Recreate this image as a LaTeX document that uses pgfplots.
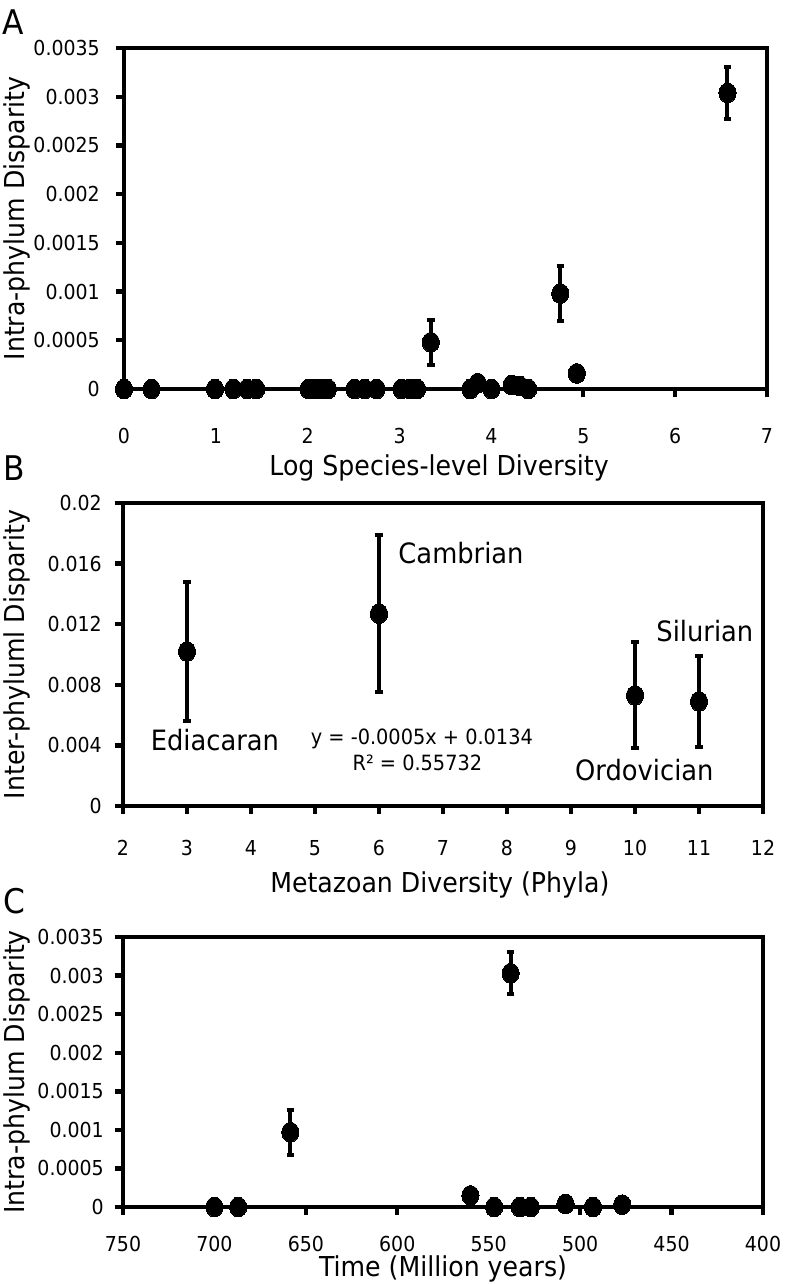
\documentclass[border=0pt]{standalone}
\usepackage{fontspec}
\setmainfont[FakeStretch=0.92]{DejaVu Sans}
\usepackage{pgfplots}
\pgfplotsset{compat=1.18}
\usepackage{pgfplotstable}

\pgfplotstableread{
x y
0 0
0.30 0
0.99 0
1.19 0
1.34 0
1.44 0
2.01 0
2.08 0
2.15 0
2.22 0
2.51 0
2.62 0
2.75 0
3.02 0
3.11 0
3.19 0
3.77 0
3.85 0.00006
4.00 0
4.22 0.00004
4.31 0.00003
4.40 0
4.93 0.00016
}\dataAplain
\pgfplotstableread{
x y e
3.34 0.00048 0.00023
4.75 0.00098 0.00028
6.57 0.00304 0.00027
}\dataAerr
\pgfplotstableread{
x y e
3 0.0102 0.0046
6 0.0127 0.0052
10 0.0073 0.0035
11 0.0069 0.0030
}\dataB
\pgfplotstableread{
x y
700 0
687 0
560 0.00015
547 0
533 0
527 0
508 0.00004
493 0
477 0.00003
}\dataCplain
\pgfplotstableread{
x y e
658.5 0.00097 0.00029
538 0.00303 0.00027
}\dataCerr

\newcommand{\ticksize}{\fontsize{10.3}{12}\selectfont}
\newcommand{\labsize}{\fontsize{13.7}{16}\selectfont}

\pgfplotsset{
  panel/.style={
    scale only axis, clip=false,
    line width=2.2pt,
    axis line style={line width=2.2pt},
    tick style={line width=2.2pt, black},
    tick align=outside, major tick length=4pt,
    xtick pos=bottom, ytick pos=left,
    scaled x ticks=false, scaled y ticks=false,
    /pgf/number format/assume math mode=true,
    ticklabel style={font=\ticksize},
    yticklabel style={anchor=east, inner sep=0pt},
    xticklabel style={anchor=center, inner sep=0pt},
    label style={font=\labsize, inner sep=0pt},
    ylabel style={at={(axis description cs:-0.166,0.5)}, anchor=center},
  },
  dots/.style={only marks, mark=*, black, mark size=4.3pt,
    mark options={yscale=1.15, fill=black, draw=black, line width=0pt}},
  ebars/.style={dots, error bars/.cd, y dir=both, y explicit,
    error bar style={line width=2pt, black},
    error mark=|,
    error mark options={mark size=1.9pt, black, line width=2pt}},
}

\begin{document}
\begin{tikzpicture}
\useasboundingbox (0,0) rectangle (396.5pt,-642pt);

% ---------------- Panel A
\begin{axis}[panel,
  at={(62pt,-194.5pt)}, anchor=south west,
  width=321.5pt, height=170.5pt,
  xmin=0, xmax=7, ymin=0, ymax=0.0035,
  xtick={0,1,...,7},
  ytick={0,0.0005,0.001,0.0015,0.002,0.0025,0.003,0.0035},
  yticklabels={0,0.0005,0.001,0.0015,0.002,0.0025,0.003,0.0035},
  xticklabels={0,1,2,3,4,5,6,7},
  yticklabel style={xshift=-7pt},
  xticklabel style={yshift=-19.5pt},
  xlabel={Log Species-level Diversity},
  xlabel style={at={(axis description cs:0.49,-0.232)}, anchor=center},
  ylabel={Intra-phylum Disparity},
]
\addplot[dots] table[x=x,y=y] {\dataAplain};
\addplot[ebars] table[x=x,y=y,y error=e] {\dataAerr};
\end{axis}

% ---------------- Panel B
\begin{axis}[panel,
  at={(61.5pt,-403pt)}, anchor=south west,
  width=320pt, height=151.5pt,
  xmin=2, xmax=12, ymin=0, ymax=0.02,
  xtick={2,3,...,12},
  xticklabels={2,3,4,5,6,7,8,9,10,11,12},
  ytick={0,0.004,0.008,0.012,0.016,0.02},
  yticklabels={0,0.004,0.008,0.012,0.016,0.02},
  yticklabel style={xshift=-5.5pt},
  xticklabel style={yshift=-17pt},
  xlabel={Metazoan Diversity (Phyla)},
  xlabel style={at={(axis description cs:0.495,-0.261)}, anchor=center},
  ylabel={Inter-phyluml Disparity},
]
\addplot[ebars] table[x=x,y=y,y error=e] {\dataB};
\node[anchor=west, inner sep=0pt, font=\fontsize{14}{16}\selectfont] at (axis cs:6.27,0.0167) {Cambrian};
\node[anchor=west, inner sep=0pt, font=\fontsize{14}{16}\selectfont] at (axis cs:10.3,0.01157) {Silurian};
\node[anchor=west, inner sep=0pt, font=\fontsize{14}{16}\selectfont] at (axis cs:9.03,0.00238) {Ordovician};
\node[anchor=west, inner sep=0pt, font=\fontsize{14}{16}\selectfont] at (axis cs:2.4,0.00436) {Ediacaran};
\node[anchor=center, inner sep=0pt, font=\fontsize{10.5}{12}\selectfont] at (axis cs:6.67,0.0044) {y = -0.0005x + 0.0134};
\node[anchor=center, inner sep=0pt, font=\fontsize{10.5}{12}\selectfont] at (axis cs:6.6,0.00282) {R² = 0.55732};
\end{axis}

% ---------------- Panel C
\begin{axis}[panel,
  at={(61.5pt,-603.5pt)}, anchor=south west,
  width=320pt, height=135pt,
  x dir=reverse,
  xmin=400, xmax=750, ymin=0, ymax=0.0035,
  xtick={400,450,...,750},
  xticklabels={400,450,500,550,600,650,700,750},
  ytick={0,0.0005,0.001,0.0015,0.002,0.0025,0.003,0.0035},
  yticklabels={0,0.0005,0.001,0.0015,0.002,0.0025,0.003,0.0035},
  yticklabel style={xshift=-4.5pt},
  xticklabel style={yshift=-14.5pt},
  xlabel={Time (Million years)},
  xlabel style={at={(axis description cs:0.5,-0.228)}, anchor=center},
  ylabel={Intra-phylum Disparity},
]
\addplot[dots] table[x=x,y=y] {\dataCplain};
\addplot[ebars] table[x=x,y=y,y error=e] {\dataCerr};
\end{axis}

% panel letters
\node[anchor=base west, inner sep=0pt, font=\fontsize{17}{20}\selectfont] at (1pt,-17.5pt) {A};
\node[anchor=base west, inner sep=0pt, font=\fontsize{17}{20}\selectfont] at (1.5pt,-240pt) {B};
\node[anchor=base west, inner sep=0pt, font=\fontsize{17}{20}\selectfont] at (1.5pt,-456.5pt) {C};
\end{tikzpicture}
\end{document}
